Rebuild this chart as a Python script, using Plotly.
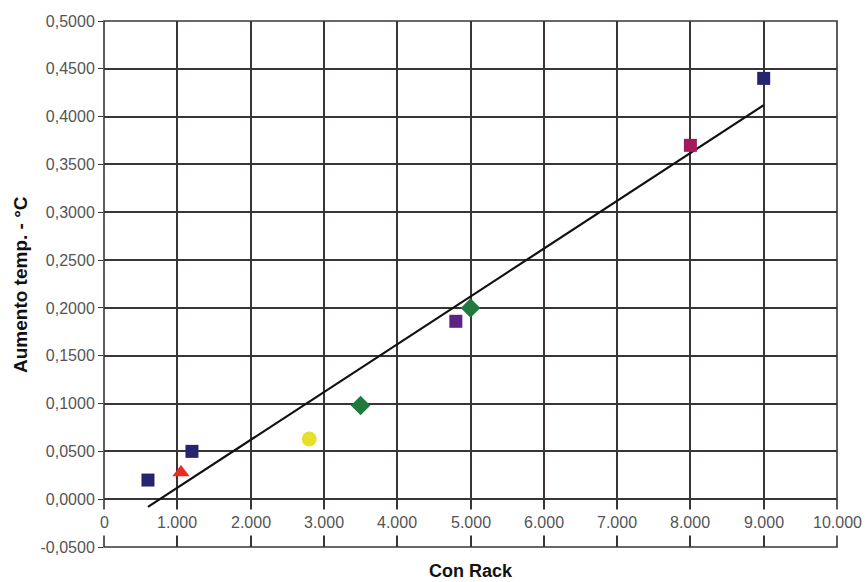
import plotly.graph_objects as go
import numpy as np

# data
x_vals = [600, 1050, 1200, 2800, 3500, 4800, 5000, 8000, 9000]
y_vals = [0.020, 0.028, 0.050, 0.063, 0.098, 0.186, 0.200, 0.370, 0.440]
symbols = ["square", "triangle-up", "square", "circle", "diamond", "square", "diamond", "square", "square"]
colors = ["#25256e", "#ee2a1e", "#25256e", "#e6e02a", "#1f7a3c", "#5c2382", "#1f7a3c", "#a3195b", "#25256e"]
sizes = [13, 15, 13, 15, 15, 13, 15, 13, 13]

x_ticks = [0, 1000, 2000, 3000, 4000, 5000, 6000, 7000, 8000, 9000, 10000]
x_ticktext = ["0", "1.000", "2.000", "3.000", "4.000", "5.000", "6.000", "7.000", "8.000", "9.000", "10.000"]
y_ticks = [-0.05, 0.0, 0.05, 0.10, 0.15, 0.20, 0.25, 0.30, 0.35, 0.40, 0.45, 0.50]
y_ticktext = ["-0,0500", "0,0000", "0,0500", "0,1000", "0,1500", "0,2000", "0,2500",
              "0,3000", "0,3500", "0,4000", "0,4500", "0,5000"]

slope, intercept = np.polyfit(x_vals, y_vals, 1)
trend_x = [min(x_vals), max(x_vals)]
trend_y = [slope * v + intercept for v in trend_x]

fig = go.Figure()
fig.add_trace(go.Scatter(x=trend_x, y=trend_y, mode="lines",
                         line=dict(color="#111111", width=2.2), showlegend=False))
fig.add_trace(go.Scatter(x=x_vals, y=y_vals, mode="markers",
                         marker=dict(symbol=symbols, color=colors, size=sizes, opacity=1,
                                     line=dict(width=0)),
                         showlegend=False))

grid = "#3a3434"

# x tick labels sit on a white box crossing the grid just below the zero line
x_label_anns = [
    dict(text=t, x=v, y=-0.0245, xref="x", yref="y", showarrow=False,
         xanchor="center", yanchor="middle", bgcolor="white", borderpad=4,
         font=dict(size=16, color="#555555"))
    for v, t in zip(x_ticks, x_ticktext)
]

fig.update_layout(
    width=867, height=582,
    margin=dict(l=104, r=30, t=21, b=35),
    paper_bgcolor="white", plot_bgcolor="white",
    font=dict(family="Liberation Sans, Arial, sans-serif", size=16, color="#555555"),
    xaxis=dict(range=[0, 10000], tickvals=x_ticks, showticklabels=False,
               showgrid=True, gridcolor=grid, gridwidth=1.6, zeroline=False,
               showline=False, automargin=False, ticks=""),
    yaxis=dict(range=[-0.05, 0.5], tickvals=y_ticks, ticktext=y_ticktext,
               showgrid=True, gridcolor=grid, gridwidth=1.6, zeroline=False,
               showline=False, automargin=False,
               ticks="outside", ticklen=5, tickcolor=grid, tickwidth=1.4,
               tickfont=dict(size=16, color="#555555")),
    shapes=[
        dict(type="rect", xref="x domain", yref="y domain", x0=0, x1=1, y0=0, y1=1,
             line=dict(color=grid, width=1.6), layer="below"),
    ],
    annotations=x_label_anns + [
        dict(text="<b>Con Rack</b>", xref="paper", yref="paper", x=0.5, y=-0.0456,
             xanchor="center", yanchor="middle", showarrow=False,
             font=dict(size=18, color="#111111")),
        dict(text="<b>Aumento temp. - °C</b>", xref="paper", yref="paper", x=-0.1146, y=0.5,
             xanchor="center", yanchor="middle", textangle=-90, showarrow=False,
             font=dict(size=19, color="#111111")),
    ],
)

fig.write_html("out.html")
